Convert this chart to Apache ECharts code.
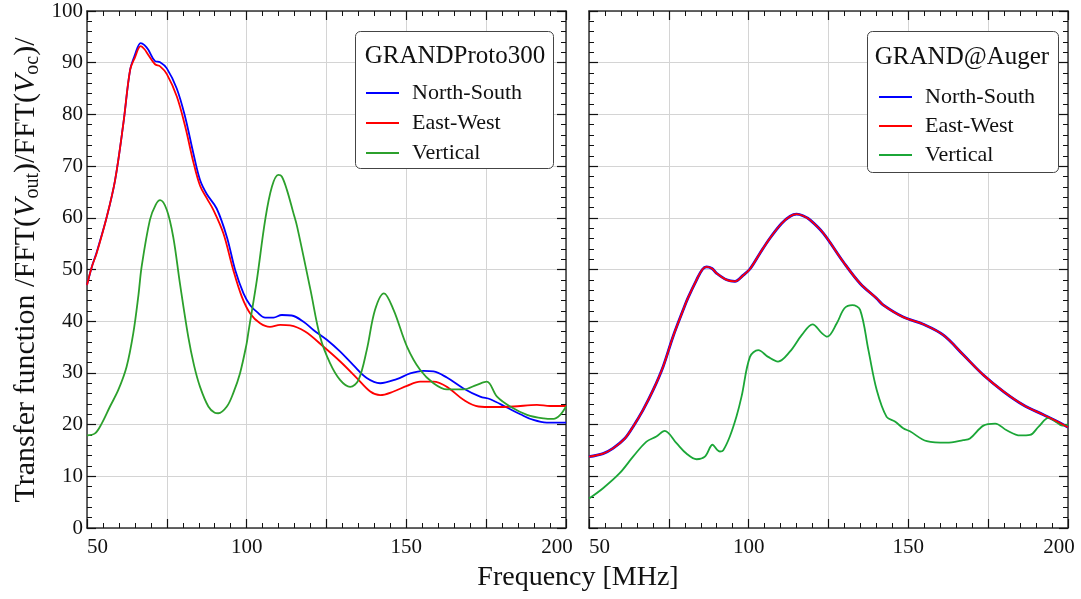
<!DOCTYPE html>
<html>
<head>
<meta charset="utf-8">
<script src="https://cdn.jsdelivr.net/npm/echarts@6/dist/echarts.min.js"></script>
<style>
html,body{margin:0;padding:0;background:#fff;}
#chart{width:1081px;height:599px;}
</style>
</head>
<body>
<div id="chart"></div>
<script>
// ---------- data (frequency MHz, transfer function) ----------
const panelTitles = ['GRANDProto300', 'GRAND@Auger'];
const seriesNames = ['North-South', 'East-West', 'Vertical'];
const xTicks = [50, 100, 150, 200];

const leftNS = [[50,47.0],[51.5,50.5],[53,53.3],[56.2,60.2],[58.8,67.3],[61.4,78.3],[63.5,88.6],[65,91.5],[66.8,93.8],[68,93.4],[69.2,92.5],[71.3,90.3],[72.9,90.1],[75,88.9],[78.1,85.0],[80.7,79.6],[83.3,72.5],[85.4,67.3],[87.5,64.6],[90.6,61.8],[93.8,56.3],[96.4,49.9],[99,45.4],[101.1,43.1],[103.2,41.8],[105.8,40.7],[108.4,40.7],[111,41.2],[114.1,41.1],[117.8,39.9],[120.9,38.3],[125.1,36.4],[129.3,34.1],[133.4,31.5],[137.6,29.0],[141.8,28.0],[147,28.8],[151.2,29.9],[155.4,30.4],[158.5,30.3],[162.7,29.1],[167.9,27.0],[173.1,25.4],[176.3,24.9],[181.5,23.3],[185.7,22.0],[189.8,20.9],[194,20.4],[200,20.4]];
const leftEW = [[50,47.0],[51.5,50.5],[53,53.1],[56.2,60.2],[58.8,67.3],[61.4,78.3],[63.5,88.6],[65,91.0],[66.8,93.2],[68,92.6],[69.2,91.5],[71.3,89.7],[72.9,89.3],[75,87.8],[78.1,83.5],[80.7,77.8],[83.3,70.8],[85.4,66.2],[87.5,63.8],[89.6,61.5],[92.7,57.0],[95.8,49.9],[98.5,44.7],[101.1,41.5],[104.2,39.6],[107.3,38.9],[110.5,39.3],[113.6,39.2],[118.3,38.0],[124,35.1],[129.3,32.2],[134.5,29.0],[138.7,26.4],[141.8,25.7],[146,26.4],[150.2,27.5],[154.3,28.3],[158.5,28.3],[162.7,27.3],[167.9,24.8],[172.6,23.5],[177.3,23.4],[183.6,23.5],[190.9,23.8],[195,23.6],[200,23.6]];
const leftV = [[50,17.9],[52.5,18.3],[54.6,20.2],[57.2,23.5],[59.8,26.7],[62.4,31.2],[64.5,37.7],[66.1,45.0],[67.1,50.5],[69.7,59.6],[71.5,62.5],[72.9,63.4],[75,61.5],[77,56.3],[79.1,47.3],[81.7,37.0],[83.5,31.5],[85.4,27.3],[88,23.5],[90,22.3],[91.1,22.2],[93.8,23.5],[95.8,26.1],[97.9,29.9],[100,35.7],[100.5,37.7],[103.2,48.0],[105.8,59.6],[107.9,66.0],[109.9,68.3],[111,68.0],[112.6,65.4],[114.6,61.0],[115.8,58.3],[120,46.0],[123,37.0],[126.1,31.9],[129.3,28.6],[132.4,27.3],[135,28.6],[137.6,34.4],[140.2,42.2],[143,45.4],[146,42.2],[150.2,35.1],[154.3,30.6],[158.5,28.0],[162.7,26.8],[167.9,26.8],[172.1,27.7],[175.2,28.3],[178.4,25.4],[182.5,23.5],[187.8,21.9],[193,21.2],[196.1,21.1],[198.2,21.9],[200,23.5]];

const rightNS = [[50,13.8],[54.4,14.4],[57.5,15.4],[61.2,17.3],[63.8,19.6],[66.9,22.8],[70.1,26.7],[73.2,31.2],[76.3,37.0],[79.5,42.2],[81,44.5],[83.7,48.0],[85.5,50.0],[86.8,50.5],[88.5,50.2],[89.9,49.3],[93.1,48.0],[95.7,47.7],[98.3,48.9],[100.4,50.1],[103.5,53.1],[106.6,56.0],[110.3,58.9],[113,60.3],[115,60.7],[117,60.4],[119.2,59.6],[123.4,57.0],[129.6,51.5],[134.9,47.3],[140.1,44.4],[142.2,43.1],[148.4,40.8],[154.7,39.4],[161,37.3],[167.2,33.5],[173.5,29.6],[179.8,26.4],[186,23.8],[192.3,21.9],[196,20.8],[200,19.5]];
const rightEW = [[50,13.8],[54.4,14.4],[57.5,15.4],[61.2,17.3],[63.8,19.6],[66.9,22.8],[70.1,26.7],[73.2,31.2],[76.3,37.0],[79.5,42.2],[81,44.5],[83.7,48.0],[85.5,50.0],[86.8,50.5],[88.5,50.2],[89.9,49.3],[93.1,48.0],[95.7,47.7],[98.3,48.9],[100.4,50.1],[103.5,53.1],[106.6,56.0],[110.3,58.9],[113,60.3],[115,60.7],[117,60.4],[119.2,59.6],[123.4,57.0],[129.6,51.5],[134.9,47.3],[140.1,44.4],[142.2,43.1],[148.4,40.8],[154.7,39.4],[161,37.3],[167.2,33.5],[173.5,29.6],[179.8,26.4],[186,23.8],[192.3,21.9],[196,20.8],[200,19.5]];
const rightV = [[50,5.7],[54.4,7.7],[59.6,10.6],[63.8,13.8],[68,16.7],[71.1,17.7],[73.7,18.8],[77.4,16.4],[80.5,14.4],[83.7,13.3],[86.3,13.8],[88.7,16.1],[90,15.2],[91,14.8],[92,15.0],[94.1,17.7],[96.2,21.6],[97.8,25.5],[100.4,33.1],[103,34.4],[106.1,33.1],[109.2,32.2],[112.9,34.1],[116.6,37.3],[120,39.4],[122.9,37.7],[124.6,37.0],[127.6,39.6],[130,42.5],[132.5,43.1],[134.9,42.2],[137.5,34.4],[140.1,26.7],[143.2,21.5],[145.8,20.6],[148.4,19.3],[150.5,18.7],[155.8,16.8],[162,16.5],[167.2,17.0],[169.3,17.3],[173.5,19.8],[177.2,20.2],[180.8,18.9],[185,17.9],[188.1,18.0],[190.8,19.6],[193.9,21.3],[196.5,20.4],[198.2,19.8],[200,20.0]];

// ---------- styling ----------
const FONT = '"Liberation Serif", "Times New Roman", serif';
const BLUE = '#0000ff', RED = '#ff0000', GREEN_L = '#2ca02c', GREEN_R = '#1ba637';
const AXIS_COLOR = '#333';
const GRID_COLOR = '#d4d4d4';

const grids = [
  {left: 87, top: 11, width: 479, height: 517},
  {left: 589, top: 11, width: 479, height: 517}
];

function xAxisDef(gridIndex, position, labels) {
  return {
    type: 'value', gridIndex, position, min: 50, max: 200, interval: 25,
    axisLine: {show: true, onZero: false, lineStyle: {color: AXIS_COLOR, width: 1.5}},
    axisTick: {show: true, inside: true, length: 9, lineStyle: {color: '#111', width: 1.2}},
    minorTick: {show: true, splitNumber: 5, length: 5, lineStyle: {color: '#111', width: 1}},
    splitLine: {show: position === 'bottom', lineStyle: {color: GRID_COLOR, width: 1}},
    axisLabel: labels ? {
      show: true, margin: 9, color: '#111', fontSize: 21, fontFamily: FONT,
      formatter: v => {
        if (v === xTicks[0]) return '{l|' + v + '}';
        if (v === xTicks[xTicks.length - 1]) return '{r|' + v + '}';
        return xTicks.indexOf(v) >= 0 ? String(v) : '';
      },
      rich: {
        l: {fontSize: 21, fontFamily: FONT, color: '#111', padding: [0, 0, 0, 21]},
        r: {fontSize: 21, fontFamily: FONT, color: '#111', padding: [0, 18, 0, 0]}
      }
    } : {show: false}
  };
}
function yAxisDef(gridIndex, position, labels) {
  return {
    type: 'value', gridIndex, position, min: 0, max: 100, interval: 10,
    axisLine: {show: true, onZero: false, lineStyle: {color: AXIS_COLOR, width: 1.5}},
    axisTick: {show: true, inside: true, length: 9, lineStyle: {color: '#111', width: 1.2}},
    minorTick: {show: true, splitNumber: 5, length: 5, lineStyle: {color: '#111', width: 1}},
    splitLine: {show: position === 'left', lineStyle: {color: GRID_COLOR, width: 1}},
    axisLabel: labels ? {show: true, margin: 4, color: '#111', fontSize: 21, fontFamily: FONT} : {show: false}
  };
}

function line(name, data, xi, yi, color, width, z) {
  return {
    name, type: 'line', data, xAxisIndex: xi, yAxisIndex: yi,
    symbol: 'none', smooth: 0.35, z: z,
    lineStyle: {color, width}, itemStyle: {color},
    emphasis: {disabled: true}
  };
}

function legendDef(left, top, gap, greenColor) {
  return {
    orient: 'vertical', left, top, padding: 0, itemGap: gap,
    itemWidth: 33, itemHeight: 2, icon: 'rect',
    selectedMode: false,
    textStyle: {fontFamily: FONT, fontSize: 22, color: '#111', lineHeight: 22, padding: [0, 0, 0, 8]},
    data: [
      {name: seriesNames[0], itemStyle: {color: BLUE}},
      {name: seriesNames[1], itemStyle: {color: RED}},
      {name: seriesNames[2], itemStyle: {color: greenColor}}
    ]
  };
}

const option = {
  animation: false,
  backgroundColor: '#fff',
  textStyle: {fontFamily: FONT},
  grid: grids,
  xAxis: [xAxisDef(0, 'bottom', true), xAxisDef(0, 'top', false), xAxisDef(1, 'bottom', true), xAxisDef(1, 'top', false)],
  yAxis: [yAxisDef(0, 'left', true), yAxisDef(0, 'right', false), yAxisDef(1, 'left', false), yAxisDef(1, 'right', false)],
  legend: [legendDef(366, 82, 8, GREEN_L), legendDef(879, 86, 7, GREEN_R)],
  series: [
    line(seriesNames[0], leftNS, 0, 0, BLUE, 1.8, 3),
    line(seriesNames[1], leftEW, 0, 0, RED, 1.8, 3),
    line(seriesNames[2], leftV, 0, 0, GREEN_L, 1.8, 3),
    line(seriesNames[0], rightNS, 2, 2, BLUE, 2.8, 3),
    line(seriesNames[1], rightEW, 2, 2, RED, 1.8, 4),
    line(seriesNames[2], rightV, 2, 2, GREEN_R, 1.8, 3)
  ],
  graphic: [
    {type: 'rect', left: 355, top: 31, z: 1, shape: {width: 198, height: 137, r: 5},
      style: {fill: '#fff', stroke: '#444', lineWidth: 1}},
    {type: 'text', x: 455, y: 56, z: 10, style: {text: panelTitles[0], font: '25px ' + FONT, fill: '#111', align: 'center', verticalAlign: 'middle'}},
    {type: 'rect', left: 867, top: 31, z: 1, shape: {width: 191, height: 141, r: 5},
      style: {fill: '#fff', stroke: '#444', lineWidth: 1}},
    {type: 'text', x: 962, y: 57, z: 10, style: {text: panelTitles[1], font: '25px ' + FONT, fill: '#111', align: 'center', verticalAlign: 'middle'}},
    {type: 'text', x: 578, y: 578, z: 10, style: {text: 'Frequency [MHz]', font: '28px ' + FONT, fill: '#111', align: 'center', verticalAlign: 'middle'}},
    {type: 'text', x: 26, y: 270, rotation: Math.PI / 2, z: 10,
      style: {
        text: '{n|Transfer function /FFT(}{i|V}{s|out}{n|)/FFT(}{i|V}{s|oc}{n|)/}',
        align: 'center', verticalAlign: 'middle', fill: '#111',
        rich: {
          n: {fontFamily: FONT, fontSize: 30, lineHeight: 34, verticalAlign: 'middle', fill: '#111'},
          i: {fontFamily: FONT, fontSize: 30, fontStyle: 'italic', lineHeight: 34, verticalAlign: 'middle', fill: '#111'},
          s: {fontFamily: FONT, fontSize: 20, lineHeight: 20, verticalAlign: 'bottom', fill: '#111'}
        }
      }}
  ]
};

const chart = echarts.init(document.getElementById('chart'), null, {renderer: 'canvas'});
chart.setOption(option);
</script>
</body>
</html>
